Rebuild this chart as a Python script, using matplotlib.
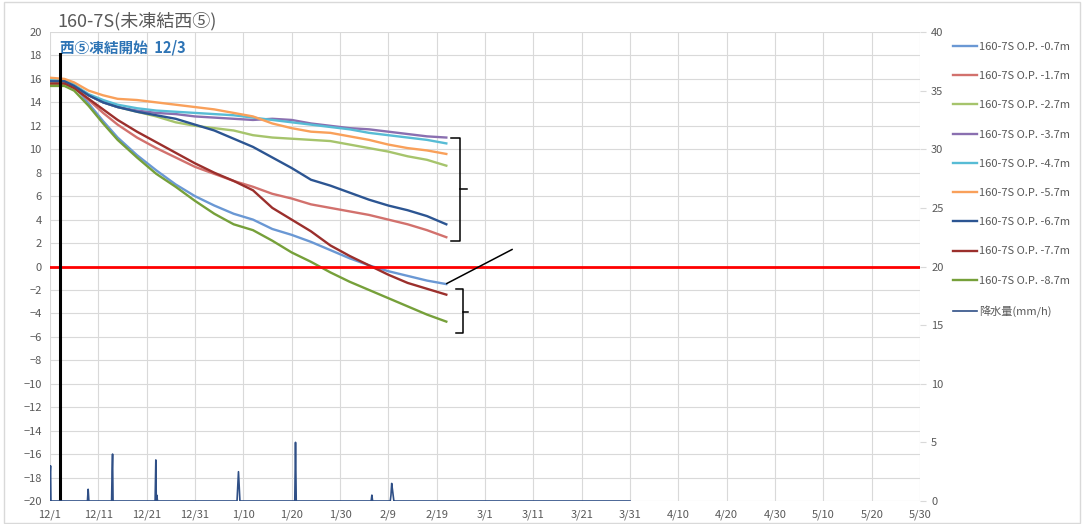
import matplotlib
matplotlib.use('Agg')
import matplotlib.pyplot as plt

plt.rcParams['font.family'] = ['Noto Sans CJK JP', 'DejaVu Sans']

# ---- data ----
x_tick_labels = ['12/1', '12/11', '12/21', '12/31', '1/10', '1/20', '1/30', '2/9', '2/19', '3/1',
                 '3/11', '3/21', '3/31', '4/10', '4/20', '4/30', '5/10', '5/20', '5/30']

# days after 12/1
days = [0, 3, 5, 8, 11, 14, 18, 22, 26, 30, 34, 38, 42, 46, 50, 54, 58, 62, 66, 70, 74, 78, 82]

op_07 = [16.0, 15.9, 15.4, 13.9, 12.4, 11.0, 9.5, 8.2, 7.0, 6.0, 5.2, 4.5, 4.0, 3.2, 2.7, 2.1, 1.4, 0.7, 0.1, -0.4, -0.8, -1.2, -1.5]
op_17 = [15.8, 15.7, 15.3, 14.2, 13.1, 12.1, 11.0, 10.1, 9.3, 8.5, 7.9, 7.3, 6.8, 6.2, 5.8, 5.3, 5.0, 4.7, 4.4, 4.0, 3.6, 3.1, 2.5]
op_27 = [15.6, 15.6, 15.3, 14.6, 14.0, 13.6, 13.2, 12.8, 12.3, 12.0, 11.8, 11.6, 11.2, 11.0, 10.9, 10.8, 10.7, 10.4, 10.1, 9.8, 9.4, 9.1, 8.6]
op_37 = [15.9, 15.8, 15.4, 14.6, 14.0, 13.6, 13.3, 13.1, 13.0, 12.8, 12.7, 12.6, 12.5, 12.6, 12.5, 12.2, 12.0, 11.8, 11.7, 11.5, 11.3, 11.1, 11.0]
op_47 = [16.0, 15.9, 15.5, 14.7, 14.2, 13.8, 13.5, 13.3, 13.2, 13.1, 13.0, 12.9, 12.7, 12.5, 12.3, 12.1, 11.9, 11.7, 11.4, 11.2, 11.0, 10.8, 10.5]
op_57 = [16.1, 16.0, 15.7, 15.0, 14.6, 14.3, 14.2, 14.0, 13.8, 13.6, 13.4, 13.1, 12.8, 12.2, 11.8, 11.5, 11.4, 11.1, 10.8, 10.4, 10.1, 9.9, 9.6]
op_67 = [15.8, 15.8, 15.4, 14.6, 14.0, 13.6, 13.2, 12.9, 12.6, 12.1, 11.6, 10.9, 10.2, 9.3, 8.4, 7.4, 6.9, 6.3, 5.7, 5.2, 4.8, 4.3, 3.6]
op_77 = [15.6, 15.6, 15.2, 14.3, 13.4, 12.5, 11.5, 10.6, 9.7, 8.8, 8.0, 7.3, 6.5, 5.0, 4.0, 3.0, 1.8, 0.9, 0.1, -0.7, -1.4, -1.9, -2.4]
op_87 = [15.4, 15.4, 15.0, 13.7, 12.2, 10.8, 9.3, 7.9, 6.8, 5.6, 4.5, 3.6, 3.1, 2.2, 1.2, 0.4, -0.5, -1.3, -2.0, -2.7, -3.4, -4.1, -4.7]

series_labels = ['160-7S O.P. -0.7m', '160-7S O.P. -1.7m', '160-7S O.P. -2.7m', '160-7S O.P. -3.7m',
                 '160-7S O.P. -4.7m', '160-7S O.P. -5.7m', '160-7S O.P. -6.7m', '160-7S O.P. -7.7m',
                 '160-7S O.P. -8.7m']
series_values = [op_07, op_17, op_27, op_37, op_47, op_57, op_67, op_77, op_87]
series_colors = ['#6a98d4', '#d2716d', '#a6c46c', '#8a6fb0', '#57bcd5', '#f9a05a', '#2c5592', '#9b2f2c', '#76a03a']

rain_days = [0.0, 0.05, 0.12, 0.2, 0.35, 7.75, 7.9, 8.05, 12.75, 12.85, 12.95, 13.05, 13.2,
             21.75, 21.9, 22.0, 22.1, 22.25, 38.7, 39.0, 39.3, 50.65, 50.8, 50.95,
             66.45, 66.6, 66.75, 70.4, 70.55, 70.7, 70.85, 71.0, 71.15, 71.35, 120.0]
rain_mm = [0.0, 2.5, 3.0, 0.0, 0.0, 0.0, 1.0, 0.0, 0.0, 2.5, 4.0, 0.0, 0.0,
           0.0, 3.5, 0.0, 0.5, 0.0, 0.0, 2.5, 0.0, 0.0, 5.0, 0.0,
           0.0, 0.5, 0.0, 0.0, 0.5, 1.5, 1.0, 0.5, 0.0, 0.0, 0.0]

freeze_day = 2  # 12/3

# ---- figure ----
fig = plt.figure(figsize=(10.84, 5.24), dpi=100)
ax = fig.add_axes([0.0461, 0.0439, 0.8026, 0.895])
ax2 = ax.twinx()

grid_c = '#d9d9d9'
text_c = '#595959'

ax.set_xlim(0, 180)
ax.set_ylim(-20, 20)
ax.set_xticks(range(0, 181, 10))
ax.set_xticklabels(x_tick_labels)
ax.set_yticks(range(-20, 21, 2))
ax.grid(True, color=grid_c, lw=0.8)
ax.set_axisbelow(True)
for sp in ax.spines.values():
    sp.set_visible(False)
ax.tick_params(axis='both', length=0, labelsize=8, labelcolor=text_c, pad=6)

handles = []
for vals, lab, col in zip(series_values, series_labels, series_colors):
    h, = ax.plot(days, vals, color=col, lw=1.7, label=lab, zorder=3)
    handles.append(h)

ax.axhline(0, color='#ff0000', lw=2, zorder=4)
ax.plot([freeze_day, freeze_day], [-20, 18.1], color='black', lw=2.2, zorder=5)

# brackets / annotation lines
bk = dict(color='black', lw=1.1, zorder=5, clip_on=False)
ax.plot([83.0, 84.9, 84.9, 83.0], [11.0, 11.0, 2.2, 2.2], **bk)
ax.plot([84.9, 86.2], [6.6, 6.6], **bk)
ax.plot([84.0, 85.4, 85.4, 84.0], [-1.95, -1.95, -5.65, -5.65], **bk)
ax.plot([85.4, 86.4], [-3.85, -3.85], **bk)
ax.plot([82.1, 95.6], [-1.45, 1.45], **bk)

ax2.set_ylim(0, 40)
ax2.set_yticks(range(0, 41, 5))
for sp in ax2.spines.values():
    sp.set_visible(False)
ax2.tick_params(axis='y', length=4, color=grid_c, labelsize=8, labelcolor=text_c, pad=4)
hr, = ax2.plot(rain_days, rain_mm, color='#2f4f86', lw=1.2, label='降水量(mm/h)', zorder=3)
handles.append(hr)

fig.text(0.0526, 0.96, '160-7S(未凍結西⑤)', fontsize=13, color=text_c, ha='left', va='center')
ax.text(0.012, 0.985, '西⑤凍結開始  12/3', transform=ax.transAxes, fontsize=10.5,
        fontweight='bold', color='#2e74b5', ha='left', va='top')

leg = fig.legend(handles=handles, loc='upper left', bbox_to_anchor=(0.879, 0.920),
                 frameon=False, fontsize=8, handlelength=2.2, handletextpad=0.15,
                 labelspacing=1.73, borderpad=0, borderaxespad=0)
for t in leg.get_texts():
    t.set_color(text_c)

fig.patches.append(plt.Rectangle((0.004, 0.002), 0.992, 0.994, transform=fig.transFigure,
                                 fill=False, edgecolor='#d9d9d9', lw=1))

fig.savefig('out.png', dpi=100)
